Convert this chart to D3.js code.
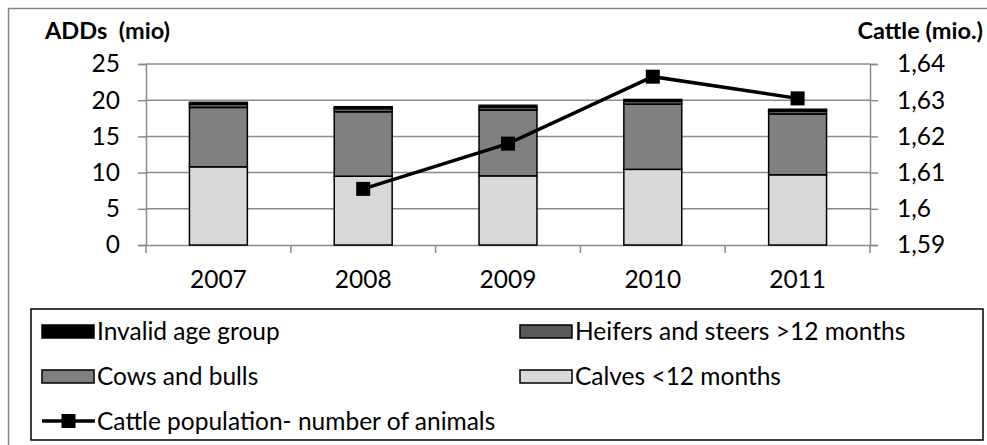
<!DOCTYPE html>
<html>
<head>
<meta charset="utf-8">
<script src="https://cdn.jsdelivr.net/npm/d3@7/dist/d3.min.js"></script>
<style>
  html, body { margin: 0; padding: 0; background: #fff; }
  svg { display: block; font-family: Lato, "Open Sans", sans-serif; }
</style>
</head>
<body>
<svg id="chart" width="987" height="445"></svg>
<script>
// ---- data ----
const years = ["2007", "2008", "2009", "2010", "2011"];
const calves = [10.8, 9.5, 9.55, 10.45, 9.7];
const cowsBulls = [8.2, 8.9, 9.1, 9.0, 8.4];
const heifersSteers = [0.45, 0.45, 0.4, 0.4, 0.4];
const invalidAge = [0.25, 0.25, 0.25, 0.25, 0.25];
const cattle = [null, 1.6055, 1.618, 1.6365, 1.6305];
const leftTicks = [0, 5, 10, 15, 20, 25];
const rightTicks = [1.59, 1.60, 1.61, 1.62, 1.63, 1.64];
const rightTickLabels = ["1,59", "1,6", "1,61", "1,62", "1,63", "1,64"];
const seriesNames = ["Calves <12 months", "Cows and bulls", "Heifers and steers >12 months", "Invalid age group"];
const lineName = "Cattle population- number of animals";

const colors = {
  "Calves <12 months": "#d9d9d9",
  "Cows and bulls": "#808080",
  "Heifers and steers >12 months": "#595959",
  "Invalid age group": "#000000"
};

const FS = 24.5;
const svg = d3.select("#chart");
const pLeft = 146, pRight = 870, pTop = 64, pBottom = 245;

// outer border
svg.append("rect").attr("x", 8.5).attr("y", 8.5).attr("width", 990).attr("height", 460)
  .attr("fill", "none").attr("stroke", "#868686").attr("stroke-width", 1.5);

const x = d3.scaleBand().domain(years).range([pLeft, pRight]).paddingInner(0.6).paddingOuter(0.3);
const y = d3.scaleLinear().domain([0, 25]).range([pBottom, pTop]);
const y2 = d3.scaleLinear().domain([1.59, 1.64]).range([pBottom, pTop]);

// gridlines
svg.append("g").selectAll("line").data(leftTicks.slice(1)).join("line")
  .attr("x1", pLeft).attr("x2", pRight)
  .attr("y1", d => y(d)).attr("y2", d => y(d))
  .attr("stroke", "#8c8c8c").attr("stroke-width", 1.5);

// left axis
const gL = svg.append("g").attr("transform", `translate(${pLeft},0)`)
  .call(d3.axisLeft(y).tickValues(leftTicks).tickSize(8).tickPadding(18).tickFormat(d3.format("d")));
gL.select(".domain").attr("stroke", "#8c8c8c").attr("stroke-width", 1.5);
gL.selectAll(".tick line").attr("stroke", "#8c8c8c").attr("stroke-width", 1.5);
gL.selectAll(".tick text").attr("font-size", FS).attr("fill", "#000").attr("font-family", "Lato");

// right axis
const gR = svg.append("g").attr("transform", `translate(${pRight},0)`)
  .call(d3.axisRight(y2).tickValues(rightTicks).tickSize(8).tickPadding(19)
    .tickFormat((d, i) => rightTickLabels[i]));
gR.select(".domain").attr("stroke", "#8c8c8c").attr("stroke-width", 1.5);
gR.selectAll(".tick line").attr("stroke", "#8c8c8c").attr("stroke-width", 1.5);
gR.selectAll(".tick text").attr("font-size", FS).attr("fill", "#000").attr("font-family", "Lato");

// bottom axis
const gB = svg.append("g").attr("transform", `translate(0,${pBottom})`)
  .call(d3.axisBottom(x).tickSize(0).tickPadding(26));
gB.select(".domain").attr("stroke", "#8c8c8c").attr("stroke-width", 1.5);
gB.selectAll(".tick text").attr("font-size", FS).attr("fill", "#000").attr("font-family", "Lato");
// category boundary ticks
const step = x.step();
const bounds = d3.range(years.length + 1).map(i => x(years[0]) - x.paddingInner() * step / 2 + i * step);
svg.append("g").selectAll("line").data(bounds).join("line")
  .attr("x1", d => d).attr("x2", d => d).attr("y1", pBottom).attr("y2", pBottom + 8)
  .attr("stroke", "#8c8c8c").attr("stroke-width", 1.5);

// stacked bars
const table = years.map((yr, i) => ({
  year: yr,
  "Calves <12 months": calves[i],
  "Cows and bulls": cowsBulls[i],
  "Heifers and steers >12 months": heifersSteers[i],
  "Invalid age group": invalidAge[i]
}));
const stacked = d3.stack().keys(seriesNames)(table);
svg.append("g").selectAll("g").data(stacked).join("g")
  .attr("fill", d => colors[d.key])
  .selectAll("rect").data(d => d).join("rect")
  .attr("x", d => x(d.data.year))
  .attr("width", x.bandwidth())
  .attr("y", d => y(d[1]))
  .attr("height", d => y(d[0]) - y(d[1]))
  .attr("stroke", "#000").attr("stroke-width", 1.5);

// line
const pts = years.map((yr, i) => ({ year: yr, v: cattle[i] })).filter(d => d.v != null);
const line = d3.line().x(d => x(d.year) + x.bandwidth() / 2).y(d => y2(d.v));
svg.append("path").datum(pts).attr("d", line)
  .attr("fill", "none").attr("stroke", "#000").attr("stroke-width", 3.5);
const ms = 14;
svg.append("g").selectAll("rect").data(pts).join("rect")
  .attr("x", d => x(d.year) + x.bandwidth() / 2 - ms / 2)
  .attr("y", d => y2(d.v) - ms / 2)
  .attr("width", ms).attr("height", ms).attr("fill", "#000");

// axis titles
svg.append("text").attr("x", 45).attr("y", 39).attr("font-size", 23.5).attr("font-weight", "bold")
  .attr("font-family", "Lato").style("white-space", "pre").text("ADDs  (mio)");
svg.append("text").attr("x", 983).attr("y", 39).attr("font-size", 23.5).attr("font-weight", "bold")
  .attr("font-family", "Lato").attr("text-anchor", "end").text("Cattle (mio.)");

// legend
const lg = svg.append("g");
lg.append("rect").attr("x", 31).attr("y", 309).attr("width", 952).attr("height", 131)
  .attr("fill", "#fff").attr("stroke", "#000").attr("stroke-width", 1.5);
const legendItems = [
  { name: "Invalid age group", col: 0, row: 0 },
  { name: "Heifers and steers >12 months", col: 1, row: 0 },
  { name: "Cows and bulls", col: 0, row: 1 },
  { name: "Calves <12 months", col: 1, row: 1 }
];
const colX = [42, 520];
const rowY = [331, 376, 421];
legendItems.forEach(it => {
  const sx = colX[it.col], cy = rowY[it.row];
  lg.append("rect").attr("x", sx).attr("y", cy - 6).attr("width", 52).attr("height", 13)
    .attr("fill", colors[it.name]).attr("stroke", "#000").attr("stroke-width", 1.5);
  lg.append("text").attr("x", sx + 55).attr("y", cy).attr("dy", "0.35em")
    .attr("font-size", FS).attr("font-family", "Lato").text(it.name);
});
lg.append("line").attr("x1", 42).attr("x2", 95).attr("y1", rowY[2]).attr("y2", rowY[2])
  .attr("stroke", "#000").attr("stroke-width", 3.5);
lg.append("rect").attr("x", 68.5 - 7).attr("y", rowY[2] - 7).attr("width", 14).attr("height", 14).attr("fill", "#000");
lg.append("text").attr("x", 97).attr("y", rowY[2]).attr("dy", "0.35em")
  .attr("font-size", FS).attr("font-family", "Lato").text(lineName);
</script>
</body>
</html>
